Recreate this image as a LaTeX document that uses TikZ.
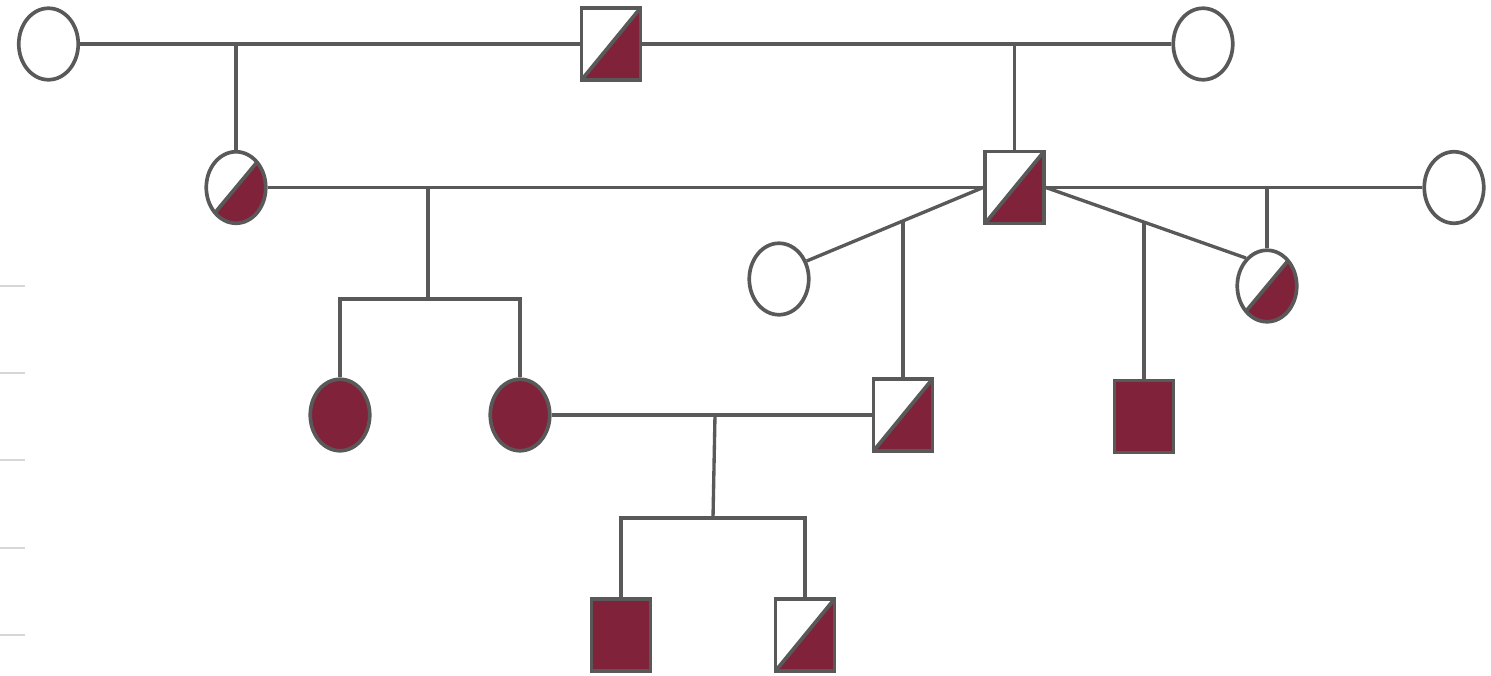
\documentclass[tikz,border=0pt]{standalone}
\usetikzlibrary{shapes.geometric,calc}
\definecolor{kin}{HTML}{80233A}
\definecolor{rule}{HTML}{595959}
\definecolor{tick}{HTML}{D6D6D6}
\tikzset{
  person/.style={draw=rule, line width=2.1pt, fill=white, inner sep=0pt},
  female/.style={person, ellipse, minimum width=1.19cm, minimum height=1.43cm},
  male/.style={person, rectangle, minimum width=1.18cm, minimum height=1.44cm},
  affected/.style={fill=kin},
  carrier/.style={path picture={
    \fill[kin] (path picture bounding box.south west) -- (path picture bounding box.south east)
      -- (path picture bounding box.north east) -- cycle;
    \draw[rule, line width=2.1pt] (path picture bounding box.south west)
      -- (path picture bounding box.north east);}},
  link/.style={draw=rule, line width=1.9pt},
  tickmark/.style={draw=tick, line width=1pt},
}
\begin{document}
\begin{tikzpicture}[x=0.02cm, y=-0.02cm]
\useasboundingbox (0,0) rectangle (1491,676);

% generation I
\node[female] (A) at (48.5,44) {};
\node[male, carrier] (B) at (611,44) {};
\node[female] (C) at (1203,44) {};

% generation II
\node[female, carrier] (D) at (236,187.5) {};
\node[male, carrier] (E) at (1014.5,187.5) {};
\node[female] (F) at (1454,187.5) {};
\node[female] (G) at (779,279) {};
\node[female, carrier] (H) at (1267,286) {};

% generation III
\node[female, affected] (I) at (340,415) {};
\node[female, affected] (J) at (520,415) {};
\node[male, carrier] (K) at (903,415) {};
\node[male, affected] (L) at (1144,416.5) {};

% generation IV
\node[male, affected] (M) at (621,635) {};
\node[male, carrier] (N) at (805,635) {};

% matings and descent lines
\draw[link] (A.east) -- (B.west);
\draw[link] (B.east) -- (C.west);
\draw[link] (D.north) -- (D.north |- A.east);
\draw[link] (E.north) -- (E.north |- B.east);

\draw[link] (D.east) -- (E.west);
\coordinate (de) at (428,187.5);
\coordinate (s1) at (428,299);
\draw[link] (de) -- (s1);
\draw[link] (I.north) |- (s1) -| (J.north);

\draw[link] (G.33) -- (E.west);
\coordinate (ge) at ($(G.33)!0.54!(E.west)$);
\draw[link] (K.north) -- (K.north |- ge);

\draw[link] (E.east) -- (F.west);
\draw[link] (H.north) -- (H.north |- F.west);

\draw[link] (E.east) -- (H.127);
\coordinate (eh) at ($(E.east)!0.486!(H.127)$);
\draw[link] (L.north) -- (L.north |- eh);

\draw[link] (J.east) -- (K.west);
\coordinate (jk) at (715,415);
\coordinate (s2) at (713,518);
\draw[link] (jk) -- (s2);
\draw[link] (M.north) |- (s2) -| (N.north);

% generation ticks along the left margin
\foreach \y in {286,373,460,548,635}
  \draw[tickmark] (0,\y) -- (25,\y);
\end{tikzpicture}
\end{document}
